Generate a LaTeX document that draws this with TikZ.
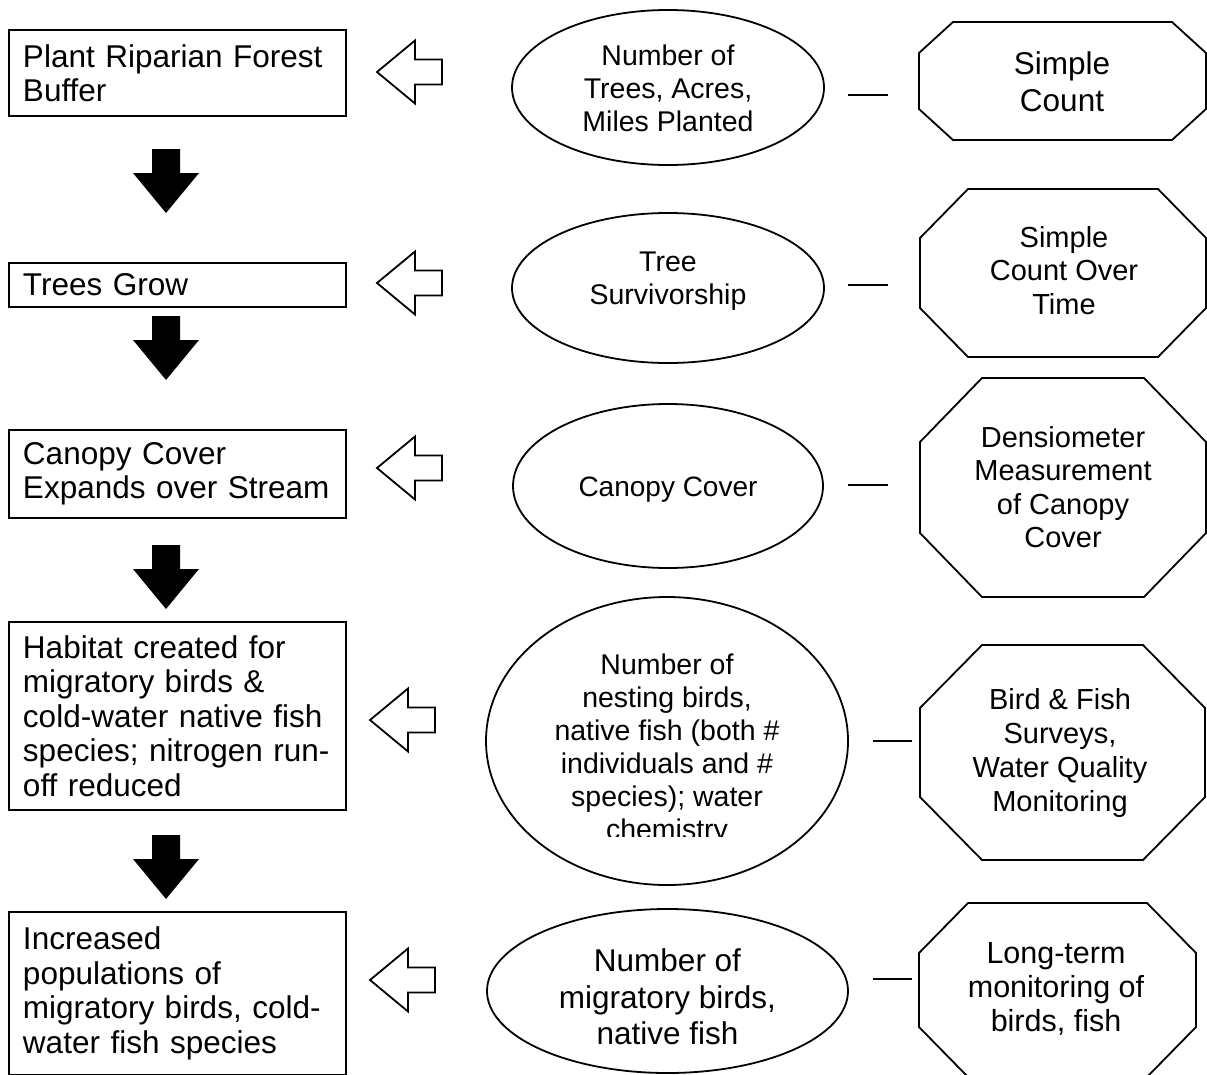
\documentclass[tikz,border=0pt]{standalone}
\usepackage{fontspec}
\setmainfont{Liberation Sans}
\usetikzlibrary{shapes.geometric}

% octagon with corners cut by #5 (horizontal) and #6 (vertical)
\newcommand\drawoct[6]{%
  \draw[lw, line join=miter] ({#1+#5},#2) -- ({#3-#5},#2) -- (#3,{#2+#6}) -- (#3,{#4-#6})
    -- ({#3-#5},#4) -- ({#1+#5},#4) -- (#1,{#4-#6}) -- (#1,{#2+#6}) -- cycle;}

\begin{document}
\begin{tikzpicture}[x=1pt,y=-1pt,
  lw/.style={line width=1.8pt},
  stage/.style={draw, lw, rectangle, minimum width=337pt, text width=309pt,
    inner xsep=14pt, inner ysep=0pt, align=left,
    font=\fontsize{31.5}{34.5}\selectfont},
  oval/.style={draw, lw, ellipse, inner sep=0pt},
  otext/.style={align=center, inner sep=0pt},
  tie/.style={lw},
  pics/downarrow/.style={code={
    \fill[black] (-14,0) -- (14,0) -- (14,24) -- (33,24) -- (0,64) -- (-33,24) -- (-14,24) -- cycle;}},
  pics/leftarrow/.style={code={
    \draw[lw, line join=miter, fill=white] (0,0) -- (38,-31.5) -- (38,-12.5) -- (65,-12.5)
      -- (65,12.5) -- (38,12.5) -- (38,31.5) -- cycle;}},
]
\fill[white] (0,0) rectangle (1207,1074);
\clip (0,0) rectangle (1207,1074);

% ---- outcome chain (left column) ----
\node[stage, minimum height=86] (b1) at (177.5,73) {Plant Riparian Forest\\Buffer};
\node[stage, minimum height=44] (b2) at (177.5,285) {Trees Grow};
\node[stage, minimum height=88] (b3) at (177.5,474) {Canopy Cover\\Expands over Stream};
\node[stage, minimum height=188] (b4) at (177.5,716) {Habitat created for\\migratory birds \&\\cold-water native fish\\species; nitrogen run-\\off reduced};
\node[stage, minimum height=163] (b5) at (177.5,993.5) {Increased\\populations of\\migratory birds, cold-\\water fish species};

\pic (s1) at (166,149) {downarrow};
\pic (s2) at (166,316) {downarrow};
\pic (s3) at (166,545) {downarrow};
\pic (s4) at (166,835) {downarrow};

% ---- indicators (middle column) ----
\pic (h1) at (377,72) {leftarrow};
\pic (h2) at (377,283) {leftarrow};
\pic (h3) at (377,468) {leftarrow};
\pic (h4) at (370,720) {leftarrow};
\pic (h5) at (370,980) {leftarrow};

\node[oval, minimum width=312, minimum height=155] (e1) at (668,87.5) {};
\node[oval, minimum width=312, minimum height=150] (e2) at (668,288) {};
\node[oval, minimum width=310, minimum height=164] (e3) at (668,486) {};
\node[oval, minimum width=362, minimum height=288] (e4) at (667,741) {};
\node[oval, minimum width=361, minimum height=164] (e5) at (667.5,991) {};

\node[otext, font=\fontsize{28.5}{33}\selectfont] (t1) at (668,88) {Number of\\Trees, Acres,\\Miles Planted};
\node[otext, font=\fontsize{28.5}{33}\selectfont] (t2) at (668,281) {Tree\\Survivorship};
\node[otext, font=\fontsize{28}{33}\selectfont] (t3) at (668,490) {Canopy Cover};
\begin{scope}
  \clip (480,590) rectangle (860,836);
  \node[otext, font=\fontsize{28.5}{33}\selectfont] (t4) at (667,750) {Number of\\nesting birds,\\native fish (both \#\\individuals and \#\\species); water\\chemistry};
\end{scope}
\node[otext, font=\fontsize{31.5}{36.5}\selectfont] (t5) at (667.5,997) {Number of\\migratory birds,\\native fish};

% ---- links to methods ----
\coordinate (l1a) at (848,95);  \coordinate (l1b) at (888,95);
\coordinate (l2a) at (848,285); \coordinate (l2b) at (888,285);
\coordinate (l3a) at (848,485); \coordinate (l3b) at (888,485);
\coordinate (l4a) at (873,741); \coordinate (l4b) at (912,741);
\coordinate (l5a) at (873,979); \coordinate (l5b) at (912,979);
\draw[tie] (l1a) -- (l1b);
\draw[tie] (l2a) -- (l2b);
\draw[tie] (l3a) -- (l3b);
\draw[tie] (l4a) -- (l4b);
\draw[tie] (l5a) -- (l5b);

% ---- measurement methods (right column) ----
\drawoct{919}{22}{1206}{140}{34}{31}
\drawoct{920}{189}{1206}{357}{48}{49}
\drawoct{920}{378}{1206}{597}{62}{64}
\drawoct{920}{645}{1205}{860}{62}{63}
\drawoct{919}{903}{1196}{1077}{49}{50}

\node[otext, font=\fontsize{31.5}{37}\selectfont] (m1) at (1062,81.5) {Simple\\Count};
\node[otext, font=\fontsize{29}{33.5}\selectfont] (m2) at (1064,270.5) {Simple\\Count Over\\Time};
\node[otext, font=\fontsize{29}{33.3}\selectfont] (m3) at (1063,487) {Densiometer\\Measurement\\of Canopy\\Cover};
\node[otext, font=\fontsize{29}{33.7}\selectfont] (m4) at (1060,753) {Bird \& Fish\\Surveys,\\Water Quality\\Monitoring};
\node[otext, font=\fontsize{30.5}{34}\selectfont] (m5) at (1056,988.5) {Long-term\\monitoring of\\birds, fish};
\end{tikzpicture}
\end{document}
